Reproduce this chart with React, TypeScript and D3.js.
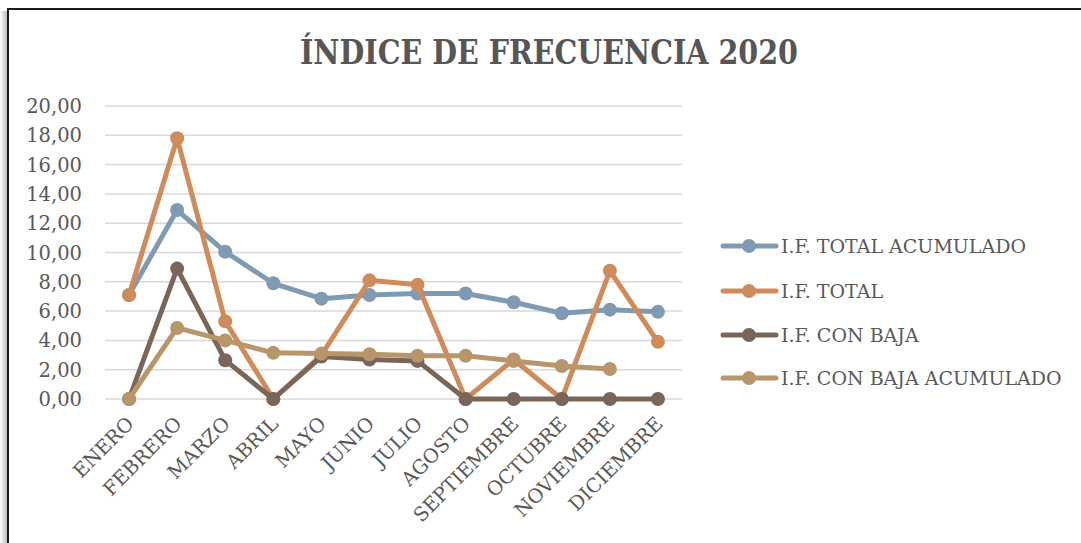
import React from 'react';
import { scaleBand, scaleLinear, line, range } from 'd3';

const months = [
  'ENERO', 'FEBRERO', 'MARZO', 'ABRIL', 'MAYO', 'JUNIO',
  'JULIO', 'AGOSTO', 'SEPTIEMBRE', 'OCTUBRE', 'NOVIEMBRE', 'DICIEMBRE',
];

const ifTotalAcumulado = [7.1, 12.9, 10.05, 7.9, 6.85, 7.1, 7.2, 7.2, 6.6, 5.85, 6.1, 5.95];
const ifTotal = [7.1, 17.8, 5.3, 0, 3.0, 8.1, 7.8, 0, 2.7, 0, 8.75, 3.9];
const ifConBaja = [0, 8.9, 2.65, 0, 2.9, 2.7, 2.6, 0, 0, 0, 0, 0];
const ifConBajaAcumulado = [0, 4.85, 4.0, 3.15, 3.1, 3.05, 2.95, 2.95, 2.6, 2.25, 2.05, null];

const seriesNames = ['I.F. TOTAL ACUMULADO', 'I.F. TOTAL', 'I.F. CON BAJA', 'I.F. CON BAJA ACUMULADO'];
const seriesColors = ['#7f9bb3', '#d08b5b', '#7a6659', '#b8966c'];
const yTicks = range(0, 21, 2);

const W = 1081;
const H = 543;
const FONT = 'DejaVu Serif, serif';
const TEXT = '#595959';

export default function App() {
  const x = scaleBand().domain(months).range([105, 682]).padding(0);
  const y = scaleLinear().domain([0, 20]).range([399, 106]);
  const cx = (m: string) => (x(m) as number) + x.bandwidth() / 2;

  const series = [ifTotalAcumulado, ifTotal, ifConBaja, ifConBajaAcumulado];

  const lineGen = line<number | null>()
    .defined(d => d !== null)
    .x((d, i) => cx(months[i]))
    .y(d => y(d as number));

  return (
    <svg width={W} height={H} style={{ position: 'absolute', left: 0, top: 0 }} fontFamily={FONT}>
      <defs>
        <linearGradient id="shadow" x1="0" x2="1" y1="0" y2="0">
          <stop offset="0" stopColor="#fff" />
          <stop offset="1" stopColor="#bdbdbd" />
        </linearGradient>
      </defs>
      <rect width={W} height={H} fill="#fff" />
      {/* frame with shadow on the left */}
      <rect x={0} y={11} width={7} height={H} fill="url(#shadow)" />
      <rect x={8} y={9} width={W + 10} height={H + 10} fill="#fff" stroke="#1a1a1a" strokeWidth={2} />

      <text
        x={549}
        y={64}
        textAnchor="middle"
        fontSize={33}
        fontWeight="bold"
        fill="#565656"
        textLength={498}
        lengthAdjust="spacingAndGlyphs"
      >
        ÍNDICE DE FRECUENCIA 2020
      </text>

      {/* gridlines and y labels */}
      {yTicks.map(t => (
        <g key={t}>
          <line x1={105} x2={682} y1={y(t)} y2={y(t)} stroke="#d9d9d9" strokeWidth={1.5} />
          <text x={82} y={y(t)} dy="0.36em" textAnchor="end" fontSize={19.5} fill={TEXT}>
            {t.toFixed(2).replace('.', ',')}
          </text>
        </g>
      ))}

      {/* x labels */}
      {months.map(m => (
        <text
          key={m}
          transform={`translate(${cx(m) + 6},${425}) rotate(-45)`}
          textAnchor="end"
          fontSize={19.5}
          fill={TEXT}
        >
          {m}
        </text>
      ))}

      {/* series */}
      {series.map((s, si) => (
        <g key={si}>
          <path d={lineGen(s) || ''} fill="none" stroke={seriesColors[si]} strokeWidth={5} strokeLinejoin="round" />
          {s.map((v, i) =>
            v === null ? null : (
              <circle key={i} cx={cx(months[i])} cy={y(v)} r={7} fill={seriesColors[si]} />
            ),
          )}
        </g>
      ))}

      {/* legend */}
      {seriesNames.map((name, i) => {
        const ly = [246, 291, 335, 378][i];
        return (
          <g key={name}>
            <line x1={723} x2={776} y1={ly} y2={ly} stroke={seriesColors[i]} strokeWidth={5} strokeLinecap="round" />
            <circle cx={749} cy={ly} r={7} fill={seriesColors[i]} />
            <text x={781} y={ly} dy="0.36em" fontSize={19} fill={TEXT}>
              {name}
            </text>
          </g>
        );
      })}
    </svg>
  );
}
